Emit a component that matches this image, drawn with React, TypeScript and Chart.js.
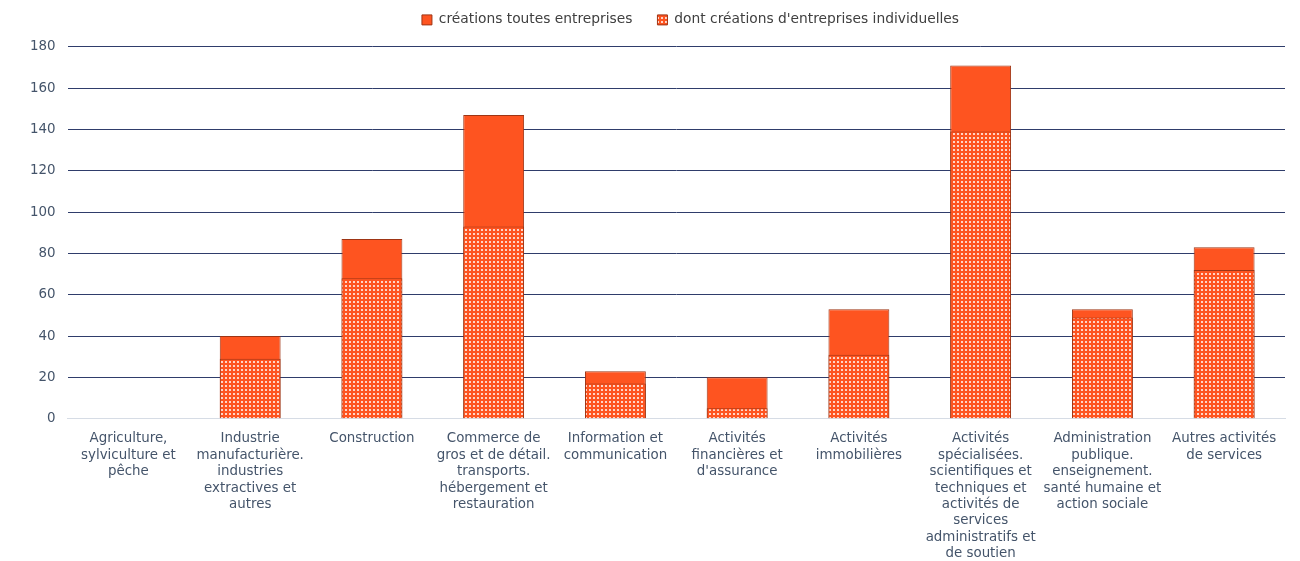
import React, { useEffect, useRef } from "react";
import { Chart, registerables } from "chart.js";

Chart.register(...registerables);

const categories: string[][] = [
  ["Agriculture,", "sylviculture et", "pêche"],
  ["Industrie", "manufacturière.", "industries", "extractives et", "autres"],
  ["Construction"],
  ["Commerce de", "gros et de détail.", "transports.", "hébergement et", "restauration"],
  ["Information et", "communication"],
  ["Activités", "financières et", "d'assurance"],
  ["Activités", "immobilières"],
  ["Activités", "spécialisées.", "scientifiques et", "techniques et", "activités de", "services", "administratifs et", "de soutien"],
  ["Administration", "publique.", "enseignement.", "santé humaine et", "action sociale"],
  ["Autres activités", "de services"],
];

const toutesEntreprises: number[] = [0, 40, 87, 147, 23, 20, 53, 171, 53, 83];
const entreprisesIndividuelles: number[] = [0, 29, 68, 93, 17, 5, 31, 139, 49, 72];

const seriesNames: string[] = ["créations toutes entreprises", "dont créations d'entreprises individuelles"];

const ORANGE = "#FE5420";
const BORDER = "#9E3515";

function makePattern(): CanvasPattern | string {
  const c = document.createElement("canvas");
  c.width = 4;
  c.height = 4;
  const ctx = c.getContext("2d");
  if (!ctx) return ORANGE;
  ctx.fillStyle = ORANGE;
  ctx.fillRect(0, 0, 4, 4);
  ctx.fillStyle = "rgba(255,255,255,0.75)";
  ctx.fillRect(1, 1, 2, 2);
  const p = ctx.createPattern(c, "repeat");
  return p || ORANGE;
}

const legendAdjust = {
  id: "legendAdjust",
  beforeInit(chart: any) {
    const legend = chart.legend;
    if (!legend) return;
    const origFit = legend.fit;
    legend.fit = function () {
      origFit.call(this);
      this.height -= 2;
    };
  },
  afterLayout(chart: any) {
    const legend = chart.legend;
    if (!legend) return;
    legend.left += 39;
    legend.right += 39;
    legend.top -= 12;
    legend.bottom -= 12;
  },
};

export default function App() {
  const ref = useRef<HTMLCanvasElement | null>(null);

  useEffect(() => {
    if (!ref.current) return;
    const pattern = makePattern();
    const fam = "'DejaVu Sans', Verdana, sans-serif";
    const tickFont = { family: fam, size: 13.4, lineHeight: 1.225 };
    const chart = new Chart(ref.current, {
      type: "bar",
      plugins: [legendAdjust],
      data: {
        labels: categories,
        datasets: [
          {
            label: seriesNames[0],
            data: toutesEntreprises,
            backgroundColor: ORANGE,
            borderColor: BORDER,
            borderWidth: 1,
            order: 1,
          },
          {
            label: seriesNames[1],
            data: entreprisesIndividuelles,
            backgroundColor: pattern as any,
            borderColor: BORDER,
            borderWidth: 1,
            order: 0,
          },
        ],
      },
      options: {
        animation: false,
        responsive: false,
        maintainAspectRatio: false,
        layout: { padding: { left: 18, right: 15, top: 0, bottom: 0 } },
        datasets: {
          bar: { categoryPercentage: 1, barPercentage: 0.5 },
        },
        plugins: {
          legend: {
            position: "top",
            labels: {
              boxWidth: 10,
              boxHeight: 10,
              color: "#404040",
              font: { family: fam, size: 13.8 },
              padding: 25,
              sort: (a: any, b: any) => a.datasetIndex - b.datasetIndex,
            },
          },
          tooltip: { enabled: false },
        },
        scales: {
          x: {
            stacked: true,
            grid: { display: false },
            border: { display: true, color: "#D6DCE5" },
            afterFit: (scale: any) => {
              scale.height -= 5;
            },
            ticks: {
              color: "#44546A",
              font: tickFont,
              maxRotation: 0,
              autoSkip: false,
              padding: 4,
            },
          },
          y: {
            stacked: false,
            min: 0,
            max: 180,
            border: { display: false },
            grid: {
              drawTicks: false,
              color: (ctx: any) => (ctx.tick && ctx.tick.value === 0 ? "#D6DCE5" : "#2F3D6B"),
              lineWidth: 1,
            },
            ticks: {
              stepSize: 20,
              color: "#44546A",
              font: { family: fam, size: 13.4 },
              padding: 12,
            },
          },
        },
      },
    });
    return () => chart.destroy();
  }, []);

  return (
    <div style={{ position: "fixed", left: 0, top: 0, width: 1300, height: 561, background: "#fff" }}>
      <canvas ref={ref} width={1300} height={561} style={{ display: "block", width: 1300, height: 561 }} />
    </div>
  );
}
